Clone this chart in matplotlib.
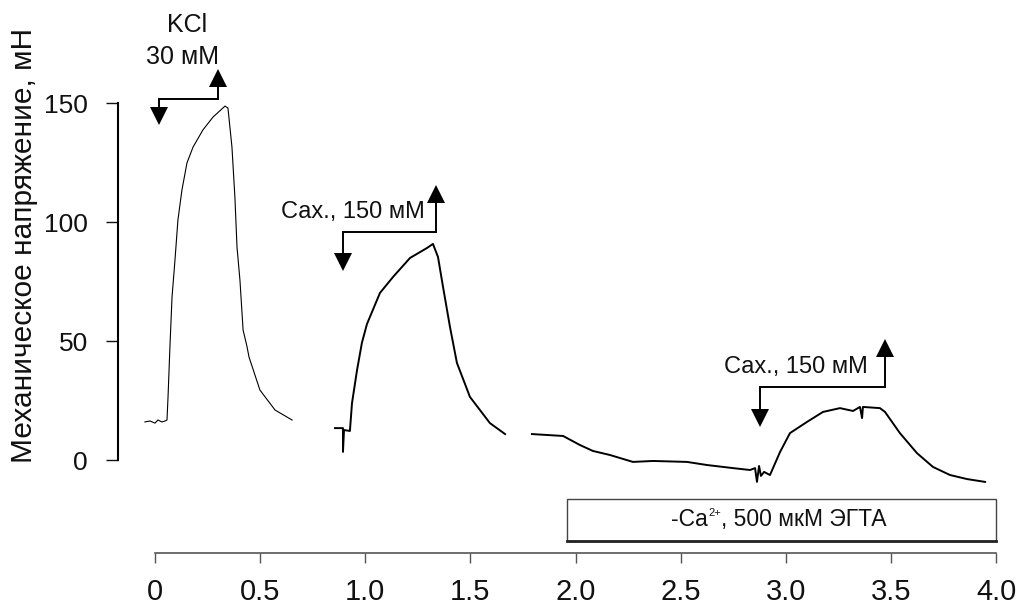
import matplotlib
matplotlib.use("Agg")
import matplotlib.pyplot as plt
from matplotlib.patches import Rectangle

plt.rcParams['font.family'] = ['Liberation Sans', 'DejaVu Sans']

# tension trace, split into the three recorded pieces (time, mN)
kcl_t = [-0.048, -0.024, 0.0, 0.014, 0.033, 0.048, 0.057, 0.062, 0.071, 0.081,
         0.095, 0.109, 0.128, 0.152, 0.181, 0.228, 0.276, 0.333, 0.347, 0.366,
         0.380, 0.390, 0.404, 0.419, 0.438, 0.447, 0.499, 0.571, 0.652]
kcl_v = [16.0, 16.4, 15.5, 16.8, 16.0, 16.4, 16.8, 26.5, 47.5, 68.5,
         84.0, 100.8, 113.4, 124.8, 131.5, 138.7, 144.1, 148.7, 147.9, 131.5,
         110.5, 89.5, 75.6, 54.6, 47.5, 43.3, 29.4, 21.0, 16.8]

sac_t = [0.856, 0.894, 0.894, 0.899, 0.927, 0.937, 0.961, 0.984, 1.008, 1.070,
         1.132, 1.213, 1.294, 1.322, 1.346, 1.370, 1.403, 1.436, 1.498, 1.593, 1.665]
sac_v = [13.4, 13.4, 3.4, 12.6, 12.2, 23.9, 37.8, 49.2, 57.1, 70.2,
         76.9, 84.9, 89.1, 90.8, 85.3, 72.7, 55.9, 40.8, 26.5, 15.5, 10.9]

egta_t = [1.793, 1.941, 2.021, 2.083, 2.164, 2.273, 2.369, 2.530, 2.625, 2.749,
          2.830, 2.854, 2.863, 2.873, 2.882, 2.897, 2.916, 2.925, 2.973, 3.020,
          3.101, 3.177, 3.258, 3.320, 3.353, 3.363, 3.367, 3.448, 3.472, 3.543,
          3.624, 3.700, 3.781, 3.862, 3.948]
egta_v = [10.9, 10.1, 6.3, 3.8, 2.1, -0.8, -0.4, -0.8, -2.1, -3.4,
          -4.2, -3.4, -9.2, -2.5, -6.7, -5.0, -5.9, -6.3, 3.4, 11.3,
          16.0, 20.2, 21.8, 20.6, 22.3, 17.6, 22.3, 21.8, 20.2, 11.3,
          2.9, -2.9, -6.3, -8.0, -9.2]

# solution switches (on, off) in the same time units
kcl_on, kcl_off = 0.02, 0.30
sac1_on, sac1_off = 0.894, 1.337
sac2_on, sac2_off = 2.878, 3.472
egta_on, egta_off = 1.96, 4.0

x_ticks = [0, 0.5, 1.0, 1.5, 2.0, 2.5, 3.0, 3.5, 4.0]
x_labels = ["0", "0.5", "1.0", "1.5", "2.0", "2.5", "3.0", "3.5", "4.0"]
y_ticks = [0, 50, 100, 150]

fig = plt.figure(figsize=(10.16, 6.06), dpi=100)
ax = fig.add_axes([0, 0, 1, 1])
ax.set_xlim(-0.7372, 4.0951)
ax.set_ylim(-61.34, 193.28)
ax.patch.set_visible(False)

ax.plot(kcl_t, kcl_v, color="black", lw=0.8)
ax.plot(sac_t, sac_v, color="black", lw=1.4)
ax.plot(egta_t, egta_v, color="black", lw=1.4)

# axes: vertical scale on the left, time scale under the traces
for side in ["top", "right"]:
    ax.spines[side].set_visible(False)
ax.spines["left"].set_position(("data", -0.176))
ax.spines["left"].set_bounds(0, 150)
ax.spines["left"].set_linewidth(1.5)
ax.spines["bottom"].set_position(("data", -39.1))
ax.spines["bottom"].set_bounds(0, 4)
ax.spines["bottom"].set_color("#555555")
ax.spines["bottom"].set_linewidth(1.2)

ax.set_yticks(y_ticks)
ax.set_xticks(x_ticks)
ax.set_xticklabels(x_labels)
ax.tick_params(axis="y", direction="out", length=8.6, width=1.0, pad=13,
               labelsize=19, colors="#111111")
ax.tick_params(axis="x", direction="out", length=7.2, width=1.0, pad=11,
               labelsize=21, color="#555555", labelcolor="#111111")

ax.set_ylabel("Механическое напряжение, мН", fontsize=21.5, color="#111111")
ax.yaxis.set_label_coords(38 / 1016, (606 - 245) / 606)


def switch(on, off, bar, low_tip, high_tip):
    h = 7.1  # arrowhead height in mN
    ax.plot([on, on, off, off], [low_tip + h / 2, bar, bar, high_tip - h / 2],
            color="black", lw=1.4, solid_joinstyle="miter")
    ax.plot(on, low_tip + h / 2, marker="v", ms=13, color="black", mew=0)
    ax.plot(off, high_tip - h / 2, marker="^", ms=13, color="black", mew=0)


switch(kcl_on, kcl_off, 151.7, 140.8, 163.9)
switch(sac1_on, sac1_off, 95.8, 79.8, 115.5)
switch(sac2_on, sac2_off, 30.7, 14.3, 50.8)

ax.text(0.152, 182.8, "KCl", fontsize=18, ha="center", va="center", color="#111111")
ax.text(0.133, 169.3, "30 мМ", fontsize=18, ha="center", va="center", color="#111111")
ax.text(1.284, 104.2, "Сах., 150 мМ", fontsize=17, ha="right", va="center", color="#111111")
ax.text(3.391, 39.1, "Сах., 150 мМ", fontsize=17, ha="right", va="center", color="#111111")

# calcium-free period bar
ax.add_patch(Rectangle((egta_on, -34.0), egta_off - egta_on, 17.6,
                       facecolor="white", edgecolor="#444444", lw=1.0))
ax.plot([egta_on, egta_off], [-34.0, -34.0], color="#222222", lw=2.0)
# label with a small raised charge, built from three pieces
anchor = (2.630, -25.2)
ax.annotate("-Ca", anchor, fontsize=16.5, ha="right", va="center", color="#111111")
ax.annotate("2+", anchor, xytext=(0.5, 5), textcoords="offset points",
            fontsize=8, ha="left", va="center", color="#111111")
ax.annotate(", 500 мкМ ЭГТА", anchor, xytext=(9.4, 0), textcoords="offset points",
            fontsize=16.5, ha="left", va="center", color="#111111")

fig.savefig("out.png", dpi=100)
